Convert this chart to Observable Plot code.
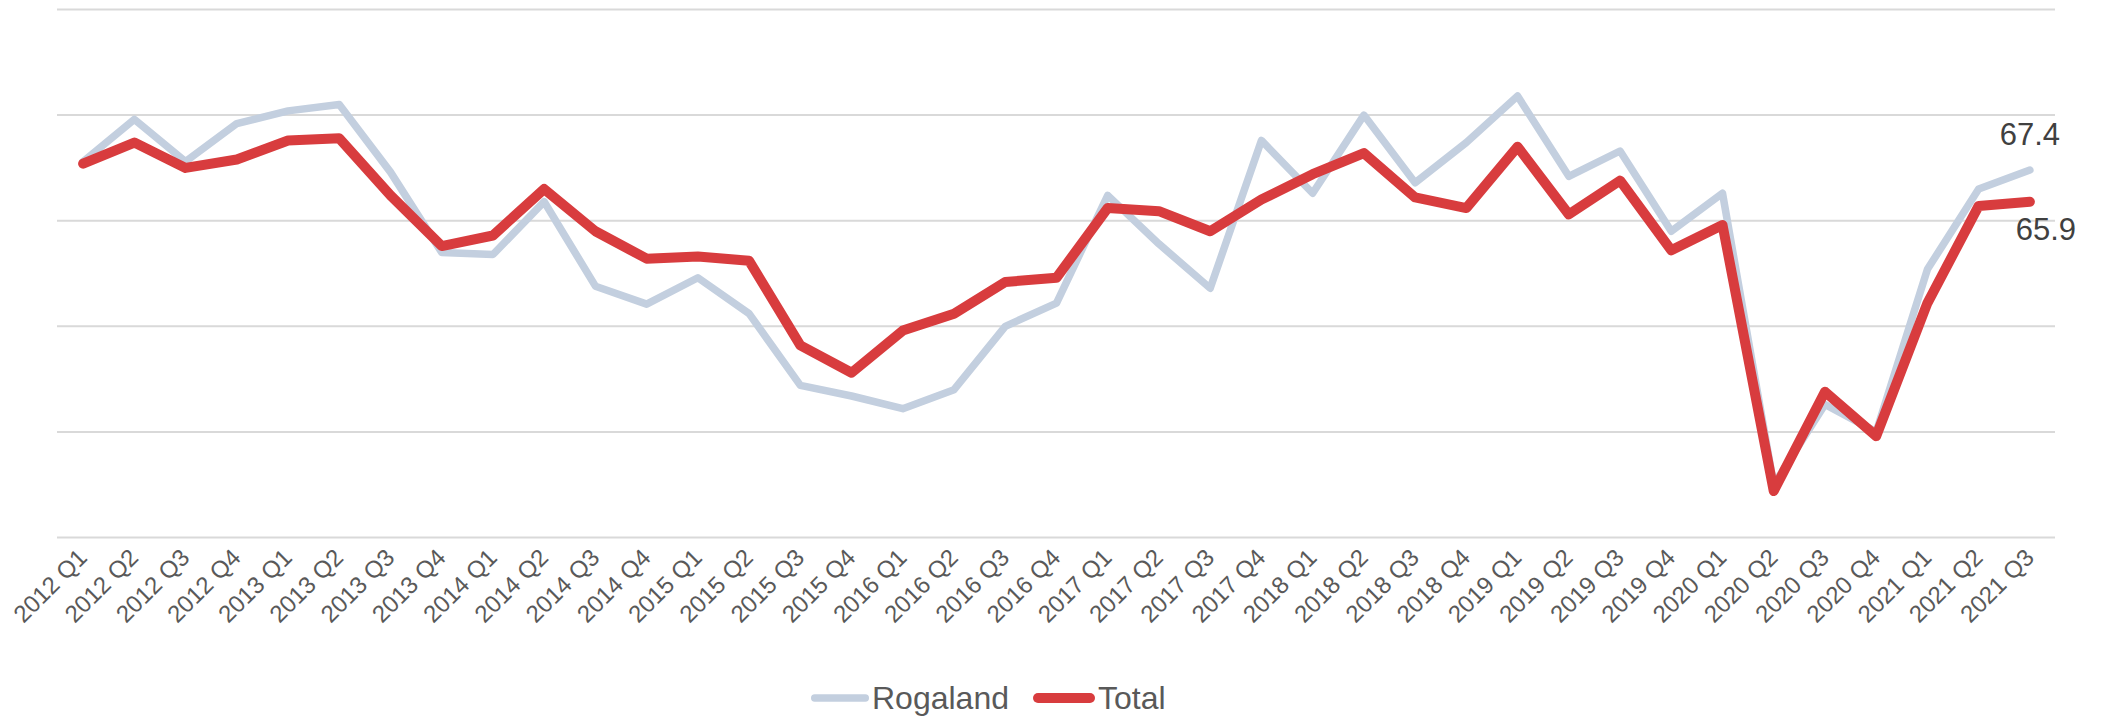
<!DOCTYPE html>
<html>
<head>
<meta charset="utf-8">
<script src="https://cdn.jsdelivr.net/npm/d3@7"></script>
<script src="https://cdn.jsdelivr.net/npm/@observablehq/plot@0.6"></script>
<style>
  body { margin: 0; background: #fff; font-family: "Liberation Sans", Arial, sans-serif; }
  #legend { display: flex; align-items: center; height: 44px; padding-top: 4px; padding-left: 811px; font-size: 32px; color: #595959; }
  .item { display: flex; align-items: center; margin-right: 24px; }
  .item svg { margin-right: 3px; }
</style>
</head>
<body>
<div id="chart"></div>
<div id="legend"></div>
<script>
const quarters = [
  "2012 Q1","2012 Q2","2012 Q3","2012 Q4",
  "2013 Q1","2013 Q2","2013 Q3","2013 Q4",
  "2014 Q1","2014 Q2","2014 Q3","2014 Q4",
  "2015 Q1","2015 Q2","2015 Q3","2015 Q4",
  "2016 Q1","2016 Q2","2016 Q3","2016 Q4",
  "2017 Q1","2017 Q2","2017 Q3","2017 Q4",
  "2018 Q1","2018 Q2","2018 Q3","2018 Q4",
  "2019 Q1","2019 Q2","2019 Q3","2019 Q4",
  "2020 Q1","2020 Q2","2020 Q3","2020 Q4",
  "2021 Q1","2021 Q2","2021 Q3"
];
const rogaland = [67.8, 69.8, 67.8, 69.6, 70.2, 70.5, 67.3, 63.5, 63.4, 65.9, 61.9, 61.05, 62.3,
  60.6, 57.2, 56.7, 56.1, 57.0, 60.0, 61.1, 66.2, 63.9, 61.8, 68.8, 66.3, 70.0,
  66.8, 68.7, 70.9, 67.1, 68.3, 64.5, 66.3, 52.5, 56.3, 55.0, 62.7, 66.5, 67.4];
const total = [67.7, 68.7, 67.5, 67.9, 68.8, 68.9, 66.2, 63.8, 64.3, 66.5, 64.5, 63.2, 63.3,
  63.1, 59.1, 57.8, 59.8, 60.6, 62.1, 62.3, 65.6, 65.45, 64.5, 66.0, 67.2, 68.2,
  66.1, 65.6, 68.5, 65.3, 66.9, 63.6, 64.8, 52.2, 56.9, 54.8, 61.1, 65.7, 65.9];
const seriesNames = ["Rogaland", "Total"];
const seriesColors = ["#c3cfdf", "#d83c3e"];
const seriesWidths = [7.5, 10];
const gridValues = [50, 55, 60, 65, 70, 75];

const rows = [];
[rogaland, total].forEach((vals, s) => vals.forEach((v, i) => rows.push({q: quarters[i], v, s: seriesNames[s]})));
const rogRows = rows.filter(d => d.s === "Rogaland");
const totRows = rows.filter(d => d.s === "Total");
const lastR = rogRows[rogRows.length - 1];
const lastT = totRows[totRows.length - 1];

const chart = Plot.plot({
  width: 2103,
  height: 672,
  marginTop: 9,
  marginBottom: 135,
  marginLeft: 57,
  marginRight: 48,
  style: {fontFamily: "'Liberation Sans', Arial, sans-serif", background: "#fff"},
  x: {type: "point", domain: quarters, padding: 0.5, round: false},
  y: {domain: [50, 75], axis: null},
  marks: [
    Plot.ruleY(gridValues, {stroke: "#d9d9d9", strokeWidth: 2}),
    Plot.axisX({tickRotate: -45, tickSize: 0, tickPadding: 16, fontSize: 24, fill: "#595959", label: null}),
    Plot.line(rogRows, {x: "q", y: "v", stroke: seriesColors[0], strokeWidth: seriesWidths[0], strokeLinecap: "round", strokeLinejoin: "round"}),
    Plot.line(totRows, {x: "q", y: "v", stroke: seriesColors[1], strokeWidth: seriesWidths[1], strokeLinecap: "round", strokeLinejoin: "round"}),
    Plot.text([lastR], {x: "q", y: "v", text: d => d.v.toFixed(1), dy: -35, fontSize: 31, fill: "#404040"}),
    Plot.text([lastT], {x: "q", y: "v", text: d => d.v.toFixed(1), dy: 28, dx: 16, fontSize: 31, fill: "#404040"})
  ]
});
document.getElementById("chart").appendChild(chart);

const legend = document.getElementById("legend");
const swLen = [58, 62];
seriesNames.forEach((name, i) => {
  const item = document.createElement("div");
  item.className = "item";
  const w = swLen[i], sw = seriesWidths[i];
  item.innerHTML = `<svg width="${w}" height="14"><line x1="${sw/2}" x2="${w - sw/2}" y1="7" y2="7" stroke="${seriesColors[i]}" stroke-width="${sw}" stroke-linecap="round"/></svg><span>${name}</span>`;
  legend.appendChild(item);
});
</script>
</body>
</html>
